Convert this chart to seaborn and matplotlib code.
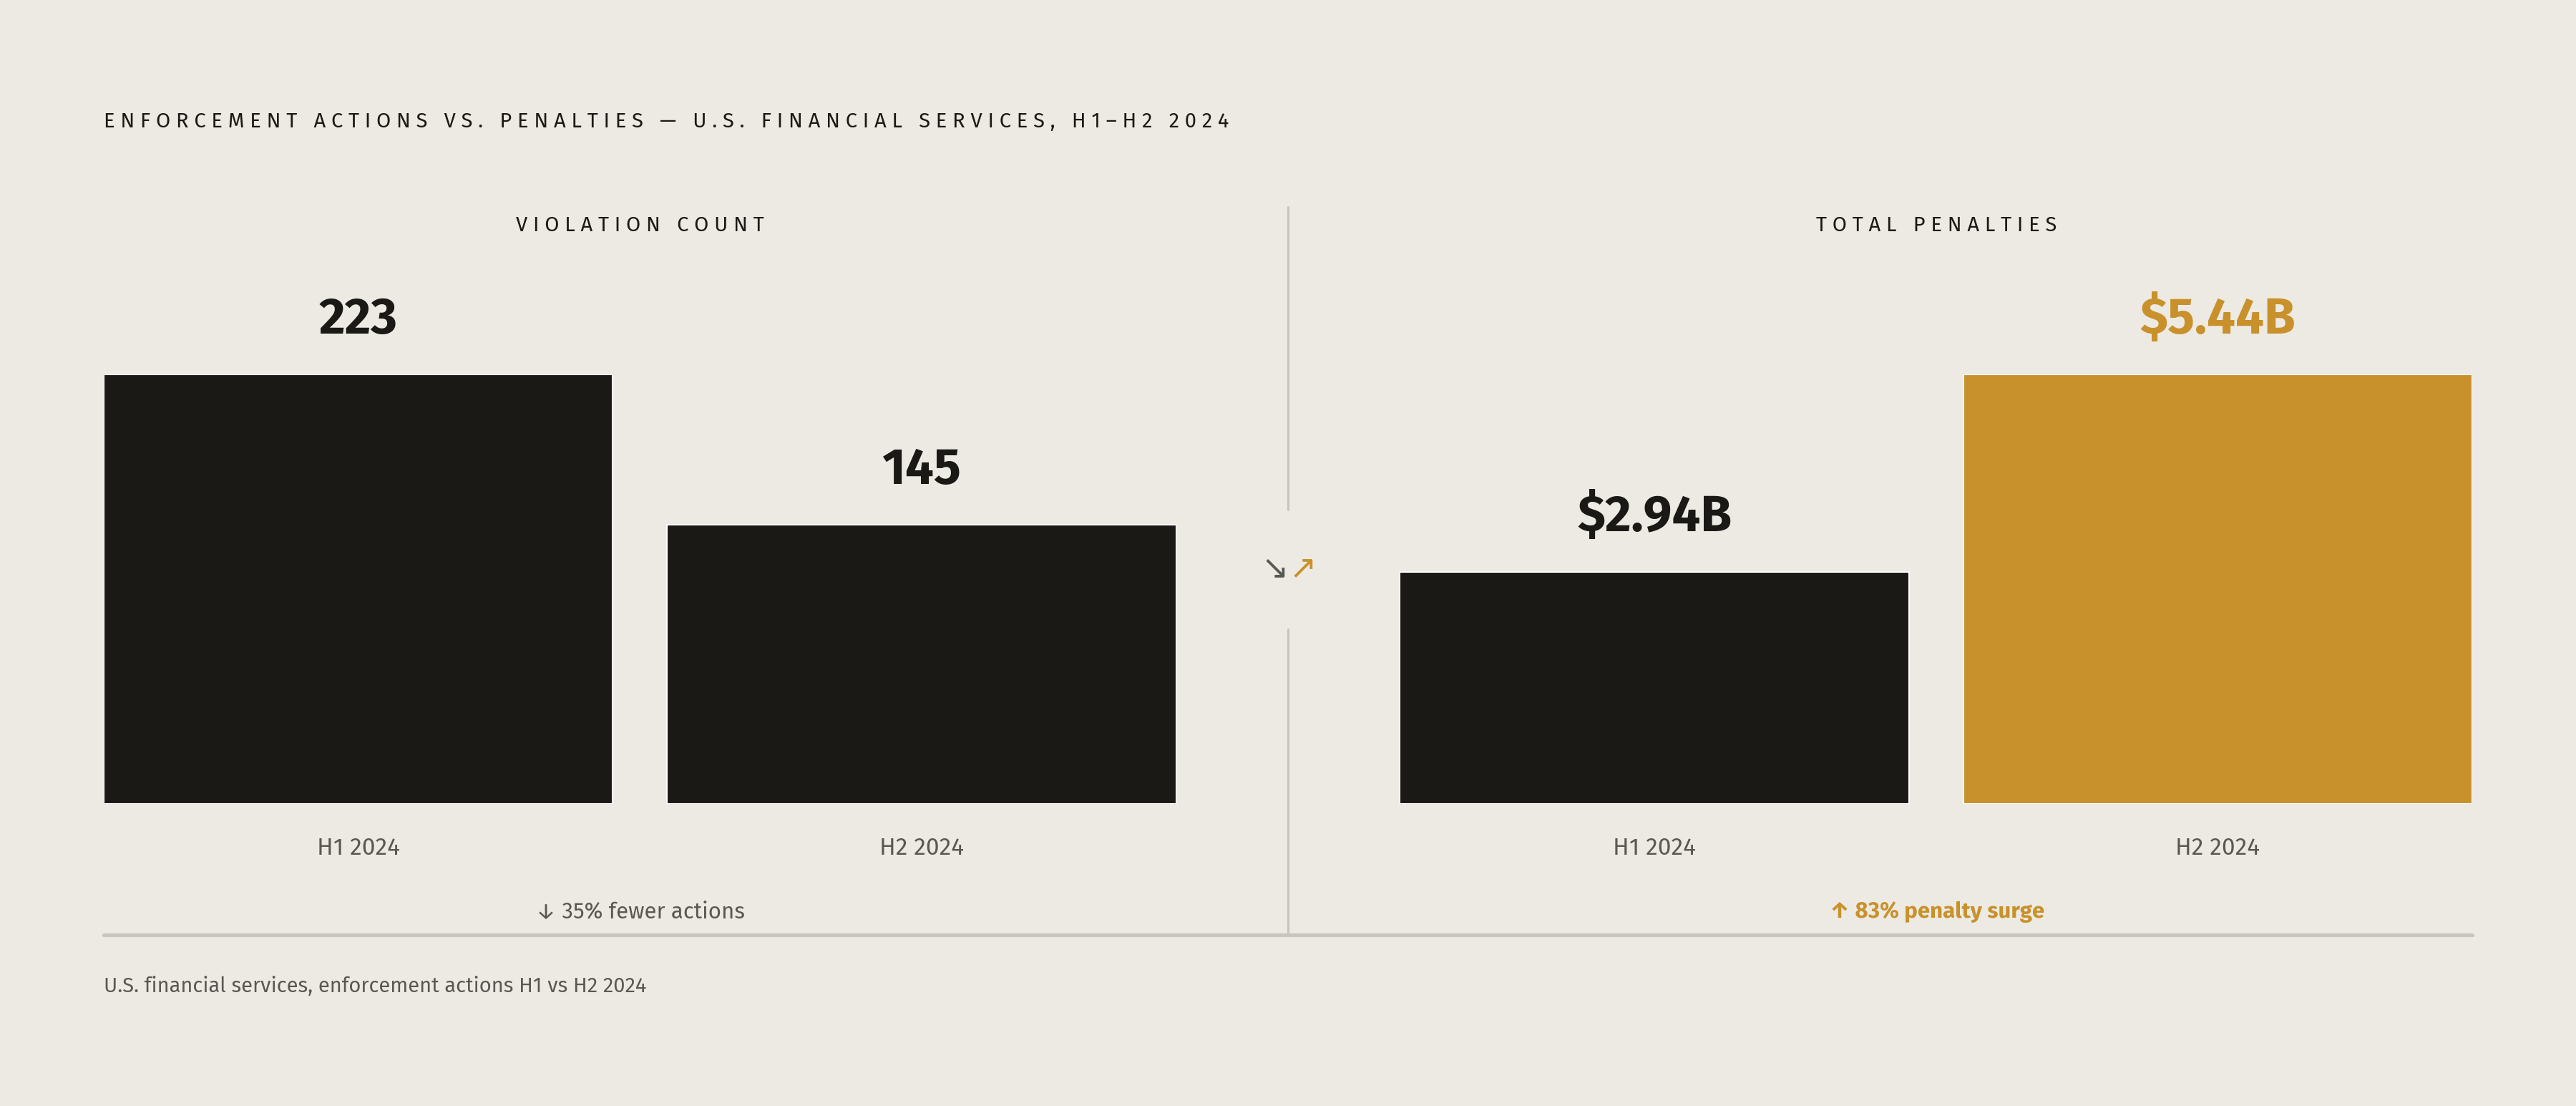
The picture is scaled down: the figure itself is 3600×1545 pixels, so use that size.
import matplotlib
matplotlib.use("Agg")
import matplotlib.pyplot as plt
import seaborn as sns
import pandas as pd
from matplotlib.lines import Line2D

periods = ["H1 2024", "H2 2024"]
violations = [223, 145]
violation_labels = ["223", "145"]
penalties = [2.94, 5.44]
penalty_labels = ["$2.94B", "$5.44B"]

BG = "#EDEAE3"; DARK = "#1B1915"; GOLD = "#C8912B"; GREY = "#5A5853"; RULE = "#C9C5BD"
sns.set_theme(style="white")
plt.rcParams["font.family"] = ["Fira Sans", "Open Sans", "DejaVu Sans"]

fig = plt.figure(figsize=(24, 10.3), dpi=150, facecolor=BG)
y0, y1 = 1 - 489/673, 1 - 228/673
W = 0.904

def panel(x0, x1, vals, labels, colors, title):
    ax = fig.add_axes([x0/1568, y0, (x1-x0)/1568, y1-y0])
    df = pd.DataFrame({"p": periods, "v": vals})
    sns.barplot(data=df, x="p", y="v", hue="p", palette=colors, width=W, ax=ax, legend=False, saturation=1)
    ax.set_xlim(-W/2, 1+W/2); ax.set_ylim(0, max(vals))
    ax.set_facecolor(BG); ax.set_xlabel(""); ax.set_ylabel("")
    ax.set_yticks([]); ax.tick_params(axis="x", length=0, pad=22, labelsize=16, labelcolor=GREY)
    for s in ax.spines.values(): s.set_visible(False)
    for i, (v, l) in enumerate(zip(vals, labels)):
        ax.annotate(l, (i, v), xytext=(0, 20), textcoords="offset points", ha="center", va="bottom",
                    fontsize=34, fontweight="bold", color=colors[i] if colors[i] == GOLD else DARK, annotation_clip=False)
    fig.text((x0+x1)/2/1568, 1-137/673, title, ha="center", va="center", fontsize=14, color=DARK)
    return ax

panel(63, 716, violations, violation_labels, [DARK, DARK], "V I O L A T I O N   C O U N T")
panel(852, 1505, penalties, penalty_labels, [DARK, GOLD], "T O T A L   P E N A L T I E S")

fig.text(63/1568, 1-74/673, "E N F O R C E M E N T   A C T I O N S   V S .   P E N A L T I E S   —   U . S .   F I N A N C I A L   S E R V I C E S ,   H 1 – H 2   2 0 2 4",
         ha="left", va="center", fontsize=14, color=DARK)
fig.text(390/1568, 1-555/673, "↓ 35% fewer actions", ha="center", va="center", fontsize=15, color=GREY)
fig.text(1179/1568, 1-555/673, "↑ 83% penalty surge", ha="center", va="center", fontsize=15, color=GOLD, fontweight="bold")
fig.text(63/1568, 1-600/673, "U.S. financial services, enforcement actions H1 vs H2 2024", ha="left", va="center", fontsize=14, color=GREY)

fy = lambda y: 1 - y/673
fx = lambda x: x/1568
fig.add_artist(Line2D([fx(63), fx(1505)], [fy(569), fy(569)], color=RULE, lw=2.5))
fig.add_artist(Line2D([fx(784), fx(784)], [fy(126), fy(310)], color=RULE, lw=1.5))
fig.add_artist(Line2D([fx(784), fx(784)], [fy(383), fy(569)], color=RULE, lw=1.5))
fig.text(fx(776), fy(346), "↘", ha="center", va="center", fontsize=22, color=GREY, family="DejaVu Sans")
fig.text(fx(793), fy(346), "↗", ha="center", va="center", fontsize=22, color=GOLD, family="DejaVu Sans")

fig.savefig("out.png", dpi=150, facecolor=BG)
